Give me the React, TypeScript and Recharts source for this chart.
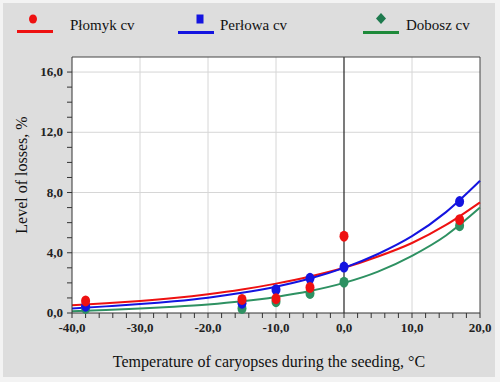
import React from 'react';
import { ComposedChart, Line, Scatter, XAxis, YAxis, CartesianGrid, ReferenceLine } from 'recharts';

// measured points (temperature, °C → losses, %)
const temps = [-38, -15, -10, -5, 0, 17];
const plomykPoints = [0.8, 0.9, 0.95, 1.7, 5.1, 6.2];
const perlowaPoints = [0.45, 0.65, 1.55, 2.3, 3.05, 7.4];
const doboszPoints = [0.3, 0.3, 0.75, 1.3, 2.05, 5.8];

// fitted curves
const curveTemps = [-40, -35, -30, -25, -20, -15, -10, -5, 0, 5, 10, 15, 20];
const plomykCurve = [0.52, 0.64, 0.8, 1.0, 1.25, 1.56, 1.95, 2.42, 3.0, 3.75, 4.65, 5.85, 7.35];
const perlowaCurve = [0.3, 0.44, 0.59, 0.78, 1.02, 1.34, 1.75, 2.29, 3.0, 3.92, 5.1, 6.7, 8.78];
const doboszCurve = [0.12, 0.2, 0.3, 0.42, 0.57, 0.78, 1.07, 1.46, 2.0, 2.75, 3.8, 5.15, 7.0];

const xTicks = [-40, -38, -36, -34, -32, -30, -28, -26, -24, -22, -20, -18, -16, -14, -12, -10, -8, -6, -4, -2, 0, 2, 4, 6, 8, 10, 12, 14, 16, 18, 20];
const yTicks = [0, 1, 2, 3, 4, 5, 6, 7, 8, 9, 10, 11, 12, 13, 14, 15, 16];

const RED = '#ee1111';
const BLUE = '#1414e0';
const GREEN = '#2e9162';

const toPoints = (ys: number[]) => temps.map((x, i) => ({ x, y: ys[i] }));
const toCurve = (ys: number[]) => curveTemps.map((x, i) => ({ x, y: ys[i] }));

const fmt = (v: number, step: number) => (v % step === 0 ? v.toFixed(1).replace('.', ',') : '');

const dot = (color: string) => (props: any) => (
  <ellipse cx={props.cx} cy={props.cy} rx={4.5} ry={5.5} fill={color} />
);

const serif = '"Liberation Serif", "Times New Roman", serif';

const XTick = (props: any) => {
  const { x, y, payload } = props;
  const label = fmt(payload.value, 10);
  if (!label) return null;
  return (
    <text x={x} y={y + 12} textAnchor="middle" style={{ fontFamily: serif, fontSize: 13, fontWeight: 'bold', fill: '#222' }}>
      {label}
    </text>
  );
};

const YTick = (props: any) => {
  const { x, y, payload } = props;
  const label = fmt(payload.value, 4);
  if (!label) return null;
  return (
    <text x={x - 2} y={y + 4} textAnchor="end" style={{ fontFamily: serif, fontSize: 13, fontWeight: 'bold', fill: '#222' }}>
      {label}
    </text>
  );
};

const App: React.FC = () => {
  return (
    <div style={{ position: 'absolute', left: 0, top: 0, width: 500, height: 382, background: '#f3f3f3' }}>
      <div style={{ position: 'absolute', left: 3, top: 3, width: 492, height: 374, background: '#dddddd' }} />
      <div style={{ position: 'absolute', left: 0, top: 0 }}>
        <ComposedChart width={500} height={382} margin={{ top: 57, right: 20, left: 22, bottom: 39 }}>
          <CartesianGrid
            fill="#fff"
            stroke="#d6d6d6"
            verticalValues={[-30, -20, -10, 10]}
            horizontalValues={[4, 8, 12, 16]}
          />
          <XAxis
            type="number"
            dataKey="x"
            domain={[-40, 20]}
            ticks={xTicks}
            interval={0}
            tick={<XTick />}
            tickSize={5}
            height={30}
            stroke="#333"
            allowDuplicatedCategory={false}
          />
          <YAxis
            type="number"
            dataKey="y"
            domain={[0, 17]}
            ticks={yTicks}
            interval={0}
            tick={<YTick />}
            tickSize={5}
            width={50}
            stroke="#333"
          />
          <ReferenceLine x={0} stroke="#222" strokeWidth={1.2} />
          <ReferenceLine y={17} stroke="#444" />
          <ReferenceLine x={20} stroke="#444" />

          <Line data={toCurve(plomykCurve)} dataKey="y" type="monotone" stroke={RED} strokeWidth={2} dot={false} isAnimationActive={false} />
          <Line data={toCurve(perlowaCurve)} dataKey="y" type="monotone" stroke={BLUE} strokeWidth={2} dot={false} isAnimationActive={false} />
          <Line data={toCurve(doboszCurve)} dataKey="y" type="monotone" stroke={GREEN} strokeWidth={2} dot={false} isAnimationActive={false} />

          <Scatter data={toPoints(doboszPoints)} dataKey="y" shape={dot(GREEN)} isAnimationActive={false} />
          <Scatter data={toPoints(perlowaPoints)} dataKey="y" shape={dot(BLUE)} isAnimationActive={false} />
          <Scatter data={toPoints(plomykPoints)} dataKey="y" shape={dot(RED)} isAnimationActive={false} />
        </ComposedChart>
      </div>

      {/* legend and axis titles */}
      <svg width={500} height={382} style={{ position: 'absolute', left: 0, top: 0, pointerEvents: 'none' }}>
        <line x1={17} x2={53} y1={31.5} y2={31.5} stroke={RED} strokeWidth={3} />
        <ellipse cx={33} cy={19} rx={4} ry={4.5} fill={RED} />
        <text x={70} y={30} fontSize={15} fontFamily={serif} fill="#111">Płomyk cv</text>

        <line x1={178} x2={214} y1={32.5} y2={32.5} stroke={BLUE} strokeWidth={3} />
        <rect x={196.5} y={14.5} width={7} height={9} fill={BLUE} />
        <text x={220} y={30} fontSize={15} fontFamily={serif} fill="#111">Perłowa cv</text>

        <line x1={363} x2={399} y1={32.5} y2={32.5} stroke="#1e8a3a" strokeWidth={3} />
        <polygon points="381,13 386,18.5 381,24 376,18.5" fill="#1e7a4e" />
        <text x={406} y={30} fontSize={15} fontFamily={serif} fill="#111">Dobosz cv</text>

        <text x={269} y={367} textAnchor="middle" fontSize={16} fontFamily={serif} fill="#111">
          Temperature of caryopses during the seeding, °C
        </text>
        <text
          x={0}
          y={0}
          transform="translate(27,175) rotate(-90)"
          textAnchor="middle"
          fontSize={16}
          fontFamily={serif}
          fill="#111"
        >
          Level of losses, %
        </text>
      </svg>
    </div>
  );
};

export default App;
